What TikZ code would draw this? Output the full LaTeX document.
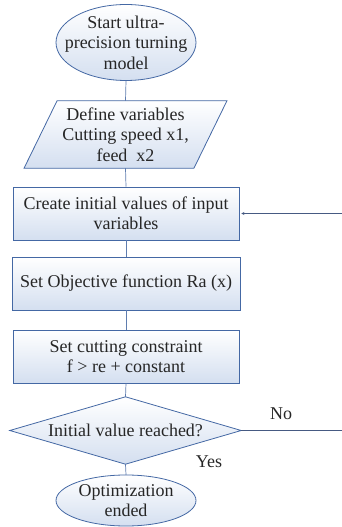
\documentclass[tikz,border=0pt]{standalone}
\usepackage{fontspec}
\setmainfont{Liberation Serif}
\usetikzlibrary{backgrounds,arrows.meta}
\definecolor{edgeblue}{RGB}{68,104,164}
\definecolor{fillblue}{RGB}{212,223,240}
\definecolor{linkblue}{RGB}{95,125,175}
\definecolor{fbline}{RGB}{70,90,130}
\tikzset{
  x=1pt,y=1pt,
  txt/.style={inner sep=0pt,align=center,font=\fontsize{18}{20.5}\selectfont,text=black!85},
  shapefill/.style={draw=edgeblue,line width=0.8pt,top color=white,bottom color=fillblue},
  boxnode/.style={txt,shapefill,rectangle},
  link/.style={draw=linkblue,line width=0.7pt},
  fb/.style={draw=fbline,line width=0.7pt},
  lbl/.style={inner sep=0pt,font=\fontsize{18}{20.5}\selectfont,text=black!85}
}
\begin{document}
\begin{tikzpicture}
\useasboundingbox (0,0) rectangle (341,527);
% nodes
\node[txt,minimum width=140,minimum height=76] (s) at (126,484.5) {Start ultra-\\precision turning\\model};
\node[txt,minimum width=169.5,minimum height=67] (p) at (125.5,392.5) {Define variables\\Cutting speed x1,\\feed\ \ x2};
\node[boxnode,minimum width=226,minimum height=53] (b1) at (126,313.5) {Create initial values of input\\variables};
\node[boxnode,minimum width=228,minimum height=53] (b2) at (126,243.5) {Set Objective function Ra (x)};
\node[boxnode,minimum width=226,minimum height=53] (b3) at (126,170.5) {Set cutting constraint\\f > re + constant};
\node[txt,minimum width=231,minimum height=67] (d) at (125.5,96.5) {Initial value reached?};
\node[txt,minimum width=140,minimum height=51] (e) at (126,26.5) {Optimization\\ended};
\node[lbl] (no) at (281,113) {No};
\node[lbl] (yes) at (209,65) {Yes};
\coordinate (f1) at (345,96.5);
\coordinate (f2) at (345,313.5);
% shapes
\begin{scope}[on background layer]
\path[shapefill] (s.center) ellipse [x radius=70,y radius=38];
\path[shapefill] ([xshift=16.5]p.north west) -- ([xshift=16.5]p.north east)
  -- ([xshift=-16.5]p.south east) -- ([xshift=-16.5]p.south west) -- cycle;
\path[shapefill] (d.north) -- (d.east) -- (d.south) -- (d.west) -- cycle;
\path[shapefill] (e.center) ellipse [x radius=70,y radius=25.5];
\end{scope}
% connectors
\draw[link] (s.south) -- (p.north);
\draw[link] (p.south) -- (b1.north);
\draw[link] (b1.south) -- (b2.north);
\draw[link] (b2.south) -- (b3.north);
\draw[link] (b3.south) -- (d.north);
\draw[link] (d.south) -- (e.north);
\draw[fb,-{Stealth[length=3pt,width=3pt]}] (d.east) -- (f1) -- (f2) -- ([xshift=2pt]b1.east);
\end{tikzpicture}
\end{document}
